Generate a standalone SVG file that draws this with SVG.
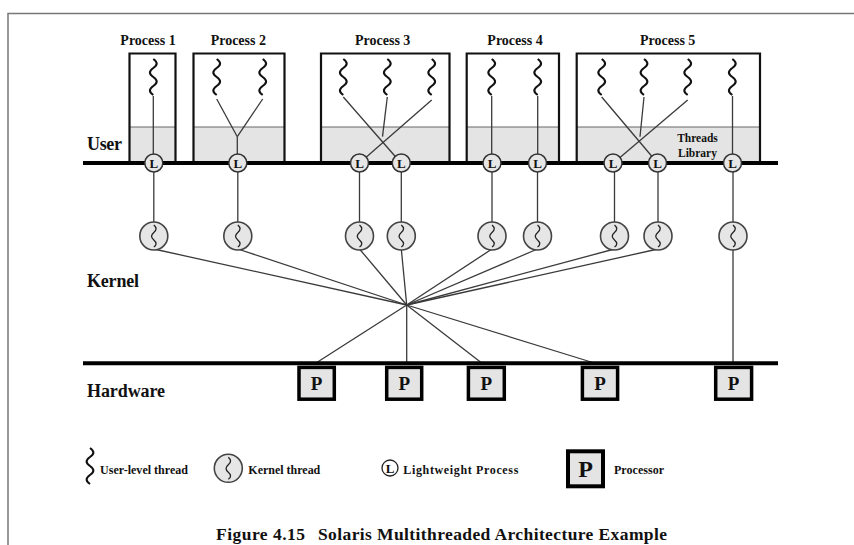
<svg xmlns="http://www.w3.org/2000/svg" width="854" height="545" viewBox="0 0 854 545">
<style>
  text { font-family: "Liberation Serif", "Times New Roman", serif; font-weight: bold; fill: #111; }
  .pbox { fill: none; stroke: #111; stroke-width: 2.2; }
  .shade { fill: #e4e4e4; stroke: none; }
  .sep { stroke: #666; stroke-width: 1; }
  .thr { fill: none; stroke: #111; stroke-width: 2.1; }
  .con { stroke: #3a3a3a; stroke-width: 1.3; fill: none; }
  .bus { stroke: #000; stroke-width: 4; }
  .lwp { fill: #e6e6e6; stroke: #333; stroke-width: 1.5; }
  .kt { fill: #e6e6e6; stroke: #444; stroke-width: 1.6; }
  .kthr { fill: none; stroke: #222; stroke-width: 1.3; }
  .proc { fill: #e4e4e4; stroke: #000; stroke-width: 3.5; }
  .lbl { font-size: 18px; }
  .ptitle { font-size: 14px; text-anchor: middle; }
  .leg { font-size: 12px; }
  .cap { font-size: 17.5px; }
  .frame { stroke: #777; stroke-width: 1.5; fill: none; }
</style>
<defs>
  <path id="ut" d="M0,0 C4.5,3 4.5,6 0,9 C-4.5,12 -4.5,15 0,18 C4.5,21 4.5,24 0,27 C-4.5,30 -4.5,33 0,36"/>
  <path id="ks" d="M0,-11 C3,-8.5 3,-6 0,-3.5 C-3,-1 -3,1.5 0,4 C3,6.5 3,9 0,11"/>
</defs>
<rect width="854" height="545" fill="#fff"/>
<path class="frame" d="M8,545 V13.5 H854"/>

<!-- Processes -->
<g id="process1">
  <rect x="129.5" y="53.5" width="46" height="109.5" fill="#fff"/>
  <rect class="shade" x="129.5" y="127" width="46" height="36"/>
  <line class="sep" x1="129.5" y1="127" x2="175.5" y2="127"/>
  <path class="pbox" d="M129.5,163 V53.5 H175.5 V163"/>
  <use href="#ut" x="153.3" y="59" class="thr"/>
  <text class="ptitle" x="148" y="45">Process 1</text>
</g>
<g id="process2">
  <rect x="193.5" y="53.5" width="91" height="109.5" fill="#fff"/>
  <rect class="shade" x="193.5" y="127" width="91" height="36"/>
  <line class="sep" x1="193.5" y1="127" x2="284.5" y2="127"/>
  <path class="pbox" d="M193.5,163 V53.5 H284.5 V163"/>
  <use href="#ut" x="216.7" y="59" class="thr"/>
  <use href="#ut" x="262.7" y="59" class="thr"/>
  <text class="ptitle" x="238.3" y="45">Process 2</text>
</g>
<g id="process3">
  <rect x="321" y="53.5" width="128.5" height="109.5" fill="#fff"/>
  <rect class="shade" x="321" y="127" width="128.5" height="36"/>
  <line class="sep" x1="321" y1="127" x2="449.5" y2="127"/>
  <path class="pbox" d="M321,163 V53.5 H449.5 V163"/>
  <use href="#ut" x="343.3" y="59" class="thr"/>
  <use href="#ut" x="387.3" y="59" class="thr"/>
  <use href="#ut" x="431.7" y="59" class="thr"/>
  <text class="ptitle" x="382.7" y="45">Process 3</text>
</g>
<g id="process4">
  <rect x="466.7" y="53.5" width="92.3" height="109.5" fill="#fff"/>
  <rect class="shade" x="466.7" y="127" width="92.3" height="36"/>
  <line class="sep" x1="466.7" y1="127" x2="559" y2="127"/>
  <path class="pbox" d="M466.7,163 V53.5 H559 V163"/>
  <use href="#ut" x="491.7" y="59" class="thr"/>
  <use href="#ut" x="537.7" y="59" class="thr"/>
  <text class="ptitle" x="515" y="45">Process 4</text>
</g>
<g id="process5">
  <rect x="576.7" y="53.5" width="183.3" height="109.5" fill="#fff"/>
  <rect class="shade" x="576.7" y="127" width="183.3" height="36"/>
  <line class="sep" x1="576.7" y1="127" x2="760" y2="127"/>
  <path class="pbox" d="M576.7,163 V53.5 H760 V163"/>
  <use href="#ut" x="601.7" y="59" class="thr"/>
  <use href="#ut" x="644" y="59" class="thr"/>
  <use href="#ut" x="687.7" y="59" class="thr"/>
  <use href="#ut" x="732.3" y="59" class="thr"/>
  <text class="ptitle" x="667.7" y="45">Process 5</text>
  <text x="697.5" y="142" font-size="11.5" text-anchor="middle">Threads</text>
  <text x="697.5" y="157" font-size="11.5" text-anchor="middle">Library</text>
</g>

<!-- Connectors -->
<g id="connectors">
  <!-- threads to LWPs -->
  <line class="con" x1="153.3" y1="96" x2="153.3" y2="163"/>
  <line class="con" x1="216.7" y1="99" x2="237.3" y2="136.7"/>
  <line class="con" x1="262.7" y1="99" x2="237.3" y2="136.7"/>
  <line class="con" x1="237.3" y1="136.7" x2="237.3" y2="163"/>
  <line class="con" x1="343.3" y1="97" x2="401" y2="163"/>
  <line class="con" x1="431.7" y1="100" x2="359.5" y2="163"/>
  <line class="con" x1="387.3" y1="97" x2="382.5" y2="136.7"/>
  <line class="con" x1="491.7" y1="96" x2="491.7" y2="163"/>
  <line class="con" x1="537.7" y1="96" x2="537.7" y2="163"/>
  <line class="con" x1="601.7" y1="97" x2="657.5" y2="163"/>
  <line class="con" x1="687.7" y1="100" x2="613.5" y2="163"/>
  <line class="con" x1="644" y1="97" x2="640" y2="136.7"/>
  <line class="con" x1="732.5" y1="96" x2="732.5" y2="163"/>
  <!-- LWPs to kernel threads -->
  <line class="con" x1="153.8" y1="163" x2="153.8" y2="236"/>
  <line class="con" x1="237.8" y1="163" x2="237.8" y2="236"/>
  <line class="con" x1="359.5" y1="163" x2="359.5" y2="236"/>
  <line class="con" x1="401.3" y1="163" x2="401.3" y2="236"/>
  <line class="con" x1="492" y1="163" x2="492" y2="236"/>
  <line class="con" x1="537.5" y1="163" x2="537.5" y2="236"/>
  <line class="con" x1="614.5" y1="163" x2="614.5" y2="236"/>
  <line class="con" x1="658" y1="163" x2="658" y2="236"/>
  <line class="con" x1="733" y1="163" x2="733" y2="236"/>
  <!-- kernel threads to hub -->
  <line class="con" x1="153.8" y1="249" x2="406.7" y2="305"/>
  <line class="con" x1="237.8" y1="249" x2="406.7" y2="305"/>
  <line class="con" x1="359.5" y1="249" x2="406.7" y2="305"/>
  <line class="con" x1="401.3" y1="249" x2="406.7" y2="305"/>
  <line class="con" x1="492" y1="249" x2="406.7" y2="305"/>
  <line class="con" x1="537.5" y1="249" x2="406.7" y2="305"/>
  <line class="con" x1="614.5" y1="249" x2="406.7" y2="305"/>
  <line class="con" x1="658" y1="249" x2="406.7" y2="305"/>
  <!-- hub to processors -->
  <line class="con" x1="406.7" y1="305" x2="316" y2="363"/>
  <line class="con" x1="406.7" y1="305" x2="406.7" y2="363"/>
  <line class="con" x1="406.7" y1="305" x2="481.7" y2="363"/>
  <line class="con" x1="406.7" y1="305" x2="594.3" y2="363"/>
  <line class="con" x1="733" y1="249" x2="733" y2="363"/>
</g>

<!-- Buses -->
<line id="user-bus" class="bus" x1="83" y1="163" x2="778" y2="163"/>
<line id="hw-bus" class="bus" x1="83" y1="363.3" x2="778" y2="363.3"/>

<!-- Lightweight processes -->
<g id="lwp1"><circle class="lwp" cx="153.8" cy="163" r="9"/><text x="153.8" y="167.5" font-size="13" text-anchor="middle">L</text></g>
<g id="lwp2"><circle class="lwp" cx="237.8" cy="163" r="9"/><text x="237.8" y="167.5" font-size="13" text-anchor="middle">L</text></g>
<g id="lwp3"><circle class="lwp" cx="359.5" cy="163" r="9"/><text x="359.5" y="167.5" font-size="13" text-anchor="middle">L</text></g>
<g id="lwp4"><circle class="lwp" cx="401.3" cy="163" r="9"/><text x="401.3" y="167.5" font-size="13" text-anchor="middle">L</text></g>
<g id="lwp5"><circle class="lwp" cx="492" cy="163" r="9"/><text x="492" y="167.5" font-size="13" text-anchor="middle">L</text></g>
<g id="lwp6"><circle class="lwp" cx="537.5" cy="163" r="9"/><text x="537.5" y="167.5" font-size="13" text-anchor="middle">L</text></g>
<g id="lwp7"><circle class="lwp" cx="613" cy="163" r="9"/><text x="613" y="167.5" font-size="13" text-anchor="middle">L</text></g>
<g id="lwp8"><circle class="lwp" cx="657.5" cy="163" r="9"/><text x="657.5" y="167.5" font-size="13" text-anchor="middle">L</text></g>
<g id="lwp9"><circle class="lwp" cx="732.5" cy="163" r="9"/><text x="732.5" y="167.5" font-size="13" text-anchor="middle">L</text></g>

<!-- Kernel threads -->
<g id="kt1"><circle class="kt" cx="153.8" cy="236" r="14"/><use href="#ks" x="153.8" y="236" class="kthr"/></g>
<g id="kt2"><circle class="kt" cx="237.8" cy="236" r="14"/><use href="#ks" x="237.8" y="236" class="kthr"/></g>
<g id="kt3"><circle class="kt" cx="359.5" cy="236" r="14"/><use href="#ks" x="359.5" y="236" class="kthr"/></g>
<g id="kt4"><circle class="kt" cx="401.3" cy="236" r="14"/><use href="#ks" x="401.3" y="236" class="kthr"/></g>
<g id="kt5"><circle class="kt" cx="492" cy="236" r="14"/><use href="#ks" x="492" y="236" class="kthr"/></g>
<g id="kt6"><circle class="kt" cx="537.5" cy="236" r="14"/><use href="#ks" x="537.5" y="236" class="kthr"/></g>
<g id="kt7"><circle class="kt" cx="614.5" cy="236" r="14"/><use href="#ks" x="614.5" y="236" class="kthr"/></g>
<g id="kt8"><circle class="kt" cx="658" cy="236" r="14"/><use href="#ks" x="658" y="236" class="kthr"/></g>
<g id="kt9"><circle class="kt" cx="733" cy="236" r="14"/><use href="#ks" x="733" y="236" class="kthr"/></g>

<!-- Processors -->
<g id="p1"><rect class="proc" x="299" y="367.4" width="35.3" height="31.8"/><text x="316.6" y="390" font-size="19" text-anchor="middle">P</text></g>
<g id="p2"><rect class="proc" x="386.7" y="367.4" width="35" height="31.8"/><text x="404.2" y="390" font-size="19" text-anchor="middle">P</text></g>
<g id="p3"><rect class="proc" x="468.4" y="367.4" width="35.9" height="31.8"/><text x="486.3" y="390" font-size="19" text-anchor="middle">P</text></g>
<g id="p4"><rect class="proc" x="582.4" y="367.4" width="35.2" height="31.8"/><text x="600" y="390" font-size="19" text-anchor="middle">P</text></g>
<g id="p5"><rect class="proc" x="715.7" y="367.4" width="35.9" height="31.8"/><text x="733.6" y="390" font-size="19" text-anchor="middle">P</text></g>

<!-- Layer labels -->
<text class="lbl" x="87" y="150" textLength="35">User</text>
<text class="lbl" x="87" y="286.5" textLength="52">Kernel</text>
<text class="lbl" x="87" y="396.5" textLength="78">Hardware</text>

<!-- Legend -->
<g id="legend">
  <use href="#ut" x="90" y="448" class="thr"/>
  <text class="leg" x="100" y="474" textLength="88">User-level thread</text>
  <circle class="kt" cx="228.3" cy="468.3" r="14"/>
  <use href="#ks" x="228.3" y="468.3" class="kthr"/>
  <text class="leg" x="248.3" y="474" textLength="72">Kernel thread</text>
  <circle cx="390" cy="468" r="8" fill="#fff" stroke="#222" stroke-width="1.3"/>
  <text x="390" y="472.5" font-size="13" text-anchor="middle">L</text>
  <text class="leg" x="403.3" y="474" textLength="115">Lightweight Process</text>
  <rect x="568" y="451.3" width="35" height="35" fill="#e4e4e4" stroke="#000" stroke-width="4"/>
  <text x="585.5" y="477" font-size="24" text-anchor="middle">P</text>
  <text class="leg" x="614" y="474" textLength="50">Processor</text>
</g>

<g id="caption">
  <text class="cap" x="216" y="540" textLength="89">Figure 4.15</text>
  <text class="cap" x="318" y="540" textLength="349">Solaris Multithreaded Architecture Example</text>
</g>
</svg>
